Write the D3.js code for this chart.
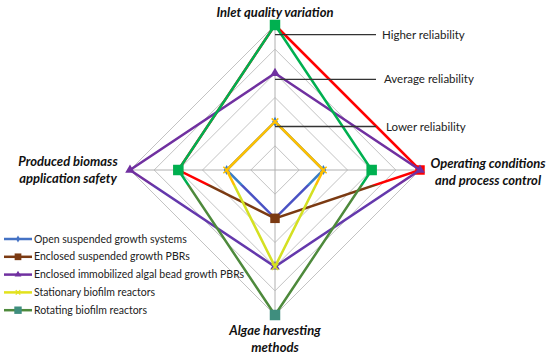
<!DOCTYPE html>
<html>
<head>
<meta charset="utf-8">
<script src="https://cdn.jsdelivr.net/npm/d3@7"></script>
<style>
  body { margin: 0; background: #fff; }
  text { font-family: Lato, "Open Sans", sans-serif; }
</style>
</head>
<body>
<div id="chart"></div>
<script>
// Axes, clockwise from the top
const axes = ["Inlet quality variation", "Operating conditions and process control",
              "Algae harvesting methods", "Produced biomass application safety"];
const seriesNames = ["Open suspended growth systems", "Enclosed suspended growth PBRs",
                     "Enclosed immobilized algal bead growth PBRs", "Stationary biofilm reactors",
                     "Rotating biofilm reactors"];
const openSuspended = [2, 2, 2, 2];
const enclosedSuspended = [6, 6, 2, 4];
const enclosedImmobilized = [4, 6, 4, 6];
const stationaryBiofilm = [2, 2, 4, 2];
const rotatingBiofilm = [6, 4, 6, 4];
const reliabilityLabels = ["Higher reliability", "Average reliability", "Lower reliability"];
const reliabilityLevels = [5.6, 3.75, 1.8];

const width = 550, height = 355;
const cx = 275, cy = 170, radius = 145, maxLevel = 6;
const splitY = 185; // the picture changes palette below this line

const svg = d3.select("#chart").append("svg")
  .attr("width", width).attr("height", height);

const r = d3.scaleLinear().domain([0, maxLevel]).range([0, radius]);
const angle = i => -Math.PI / 2 + i * Math.PI / 2;
const pt = (v, i) => [cx + r(v) * Math.cos(angle(i)), cy + r(v) * Math.sin(angle(i))];

// clip areas for the upper and lower halves
const defs = svg.append("defs");
defs.append("clipPath").attr("id", "upper").append("rect")
  .attr("x", 0).attr("y", 0).attr("width", width).attr("height", splitY);
defs.append("clipPath").attr("id", "lower").append("rect")
  .attr("x", 0).attr("y", splitY).attr("width", width).attr("height", height - splitY);

// Grid diamonds
const grid = svg.append("g");
d3.range(1, maxLevel + 1).forEach(l => {
  grid.append("path")
    .attr("d", d3.line()(axes.map((a, i) => pt(l, i))) + "Z")
    .attr("fill", "none").attr("stroke", "#c3c3c3").attr("stroke-width", 1);
});
axes.forEach((a, i) => {
  const p = pt(maxLevel, i);
  grid.append("line").attr("x1", cx).attr("y1", cy).attr("x2", p[0]).attr("y2", p[1])
    .attr("stroke", "#b0b0b0").attr("stroke-width", 1);
});

// Series
const series = [
  {values: openSuspended, up: "#3a7dc6", low: "#4a52c4", marker: "diamond", size: 28, legend: "#4472c4"},
  {values: enclosedSuspended, up: "#ff0000", low: "#7b3a12", marker: "square", size: 90, legend: "#7b3a12"},
  {values: enclosedImmobilized, up: "#7030a0", low: "#6438ac", marker: "triangle", size: 40, legend: "#7030a0"},
  {values: stationaryBiofilm, up: "#ffc000", low: "#d4e022", marker: "cross", size: 30, legend: "#e2e21c"},
  {values: rotatingBiofilm, up: "#00b050", low: "#4e8a3c", marker: "square", size: 110, legend: "#4e8a3c", lowMarker: "#3f8e7e"}
];
const symbols = {
  diamond: d3.symbolDiamond, square: d3.symbolSquare,
  triangle: d3.symbolTriangle, cross: d3.symbolTimes
};

const lines = svg.append("g");
series.forEach(s => {
  const d = d3.line()(s.values.map((v, i) => pt(v, i))) + "Z";
  lines.append("path").attr("d", d).attr("clip-path", "url(#upper)")
    .attr("fill", "none").attr("stroke", s.up).attr("stroke-width", 2.5).attr("stroke-linejoin", "miter");
  lines.append("path").attr("d", d).attr("clip-path", "url(#lower)")
    .attr("fill", "none").attr("stroke", s.low).attr("stroke-width", 2.5).attr("stroke-linejoin", "miter");
  s.values.forEach((v, i) => {
    const p = pt(v, i);
    const c = p[1] < splitY ? s.up : (s.lowMarker || s.low);
    const sym = lines.append("path")
      .attr("d", d3.symbol(symbols[s.marker], s.size)())
      .attr("transform", `translate(${p[0]},${p[1]})`);
    if (s.marker === "cross") sym.attr("fill", "none").attr("stroke", c).attr("stroke-width", 1.5);
    else sym.attr("fill", c);
  });
});

// Reliability notes
reliabilityLabels.forEach((t, i) => {
  const y = cy - r(reliabilityLevels[i]);
  svg.append("line").attr("x1", cx).attr("x2", 376).attr("y1", y).attr("y2", y)
    .attr("stroke", "#333").attr("stroke-width", 1.3);
  svg.append("text").attr("x", 382 + i * 2).attr("y", y).attr("dy", "0.35em")
    .attr("font-size", 11.5).attr("fill", "#222").text(t);
});

// Axis labels
const axisLabel = (lines, x, y, anchor) => {
  const t = svg.append("text").attr("x", x).attr("y", y).attr("text-anchor", anchor)
    .attr("font-size", 13).attr("font-weight", "bold").attr("font-style", "italic").attr("fill", "#111");
  lines.forEach((l, k) => t.append("tspan").attr("x", x).attr("dy", k ? 17 : 0).text(l));
};
axisLabel(["Inlet quality variation"], 275, 17, "middle");
axisLabel(["Operating conditions", "and process control"], 488, 168, "middle");
axisLabel(["Produced biomass", "application safety"], 68, 166, "middle");
axisLabel(["Algae harvesting", "methods"], 275, 335, "middle");

// Legend
const legend = svg.append("g");
series.forEach((s, i) => {
  const y = 239 + i * 17.8;
  legend.append("line").attr("x1", 4).attr("x2", 32).attr("y1", y).attr("y2", y)
    .attr("stroke", s.legend).attr("stroke-width", 2.5);
  const c = s.lowMarker || s.legend;
  const sym = legend.append("path")
    .attr("d", d3.symbol(symbols[s.marker], s.size * 0.5)())
    .attr("transform", `translate(18,${y})`);
  if (s.marker === "cross") sym.attr("fill", "none").attr("stroke", c).attr("stroke-width", 1.2);
  else sym.attr("fill", c);
  legend.append("text").attr("x", 34).attr("y", y).attr("dy", "0.35em")
    .attr("font-size", 10.5).attr("fill", "#222").text(seriesNames[i]);
});
</script>
</body>
</html>
